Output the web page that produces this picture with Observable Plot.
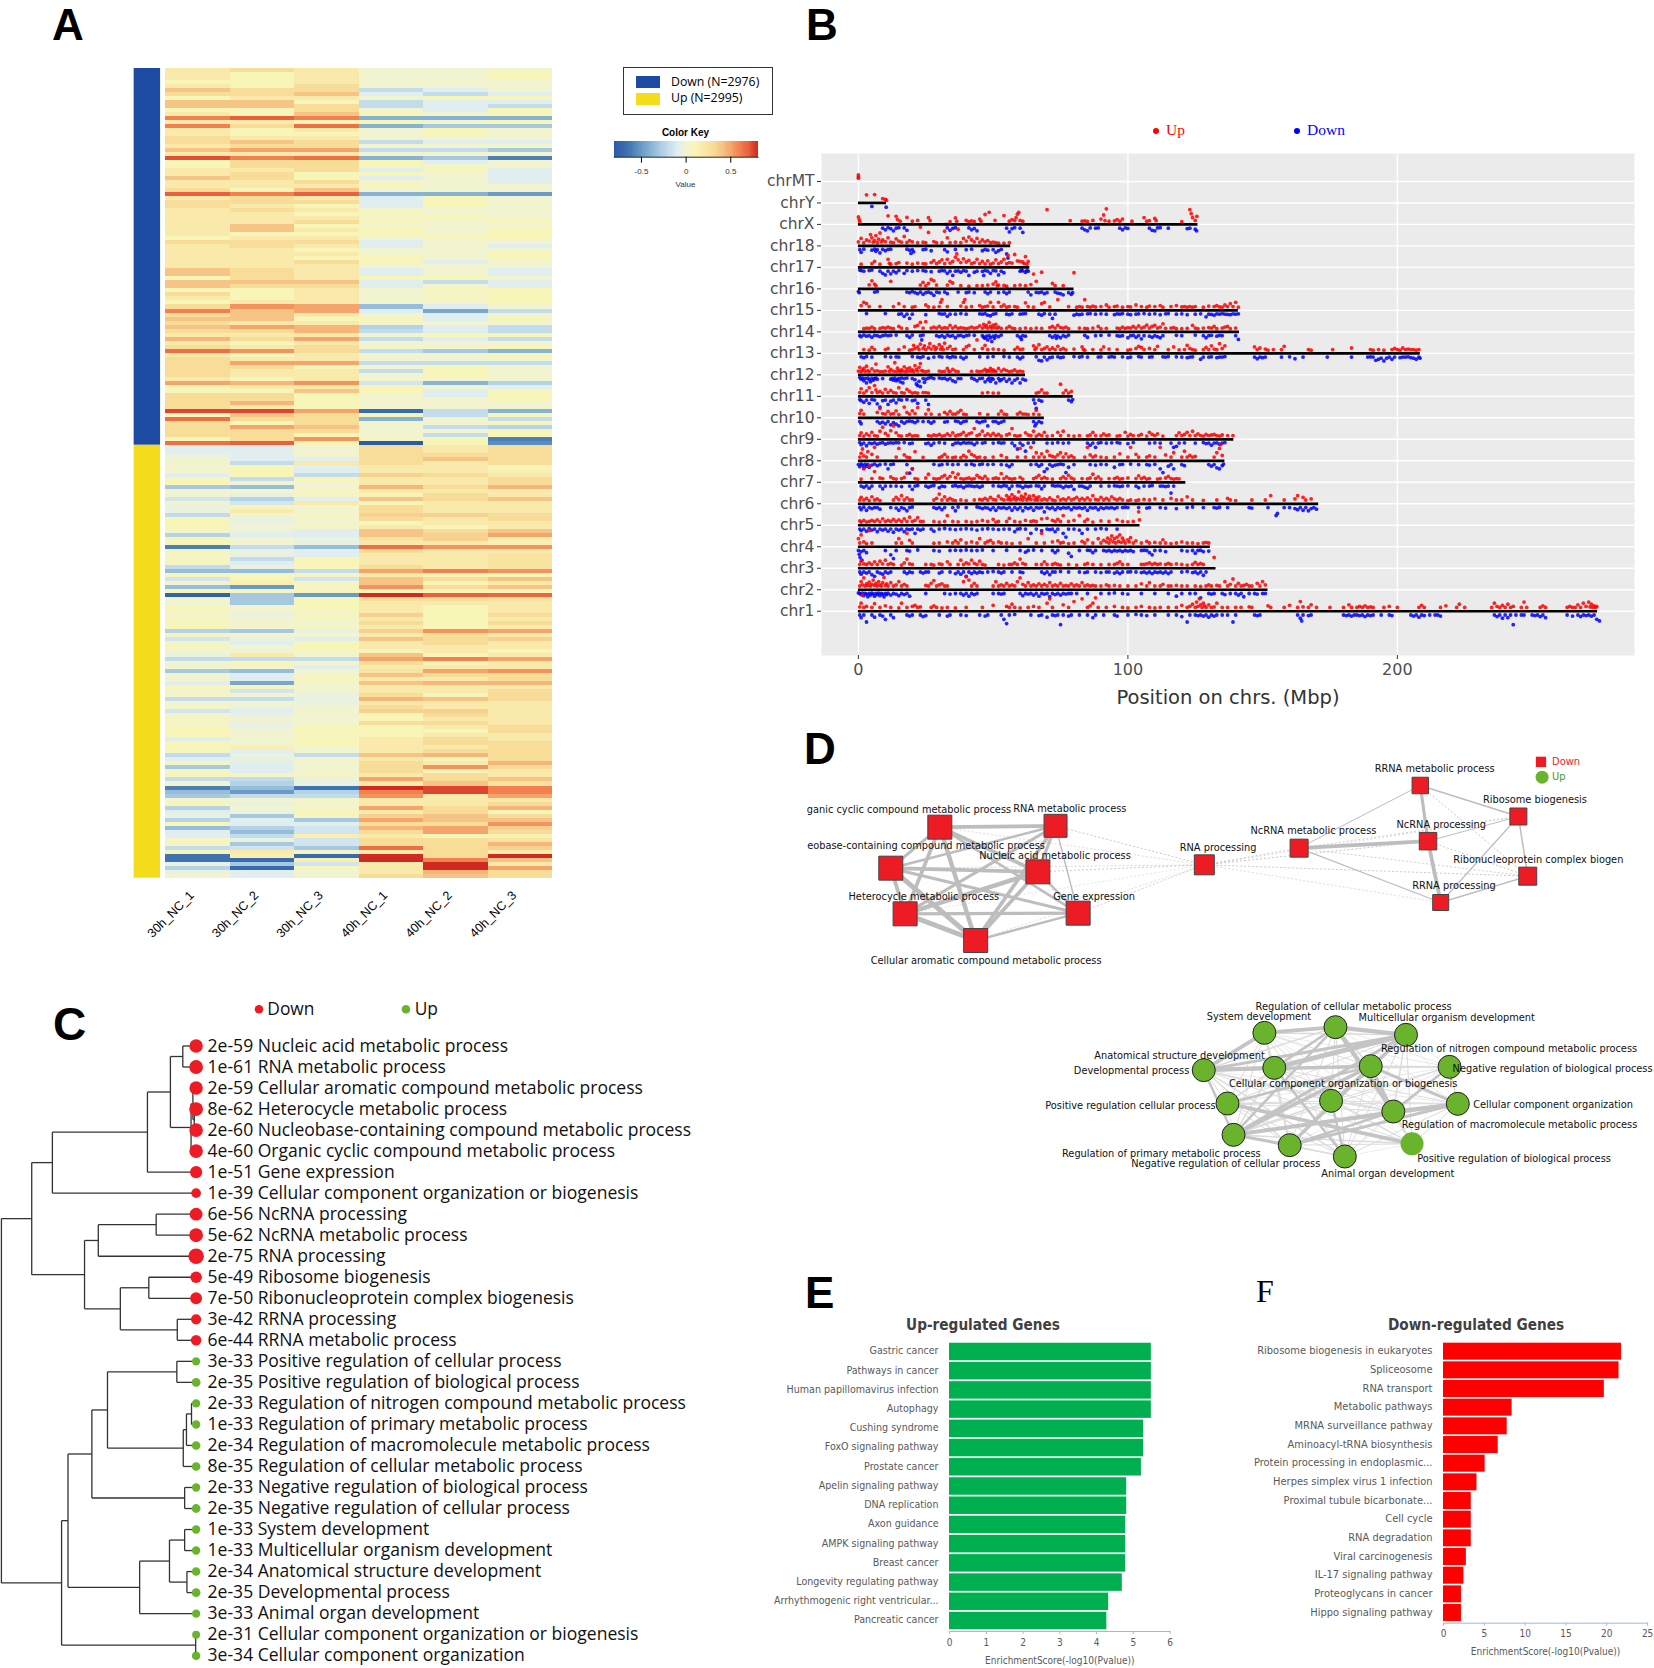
<!DOCTYPE html>
<html><head><meta charset="utf-8">
<script src="https://cdn.jsdelivr.net/npm/d3@7"></script>
<script src="https://cdn.jsdelivr.net/npm/@observablehq/plot@0.6"></script>
<style>
html,body{margin:0;background:#fff}
#page{position:relative;width:1654px;height:1668px;overflow:hidden;background:#fff}
#page svg{position:absolute;overflow:visible;background:transparent}
.t{position:absolute;white-space:nowrap;line-height:1}
</style></head><body><div id="page"></div>
<script>
// ---------- A: heat map (values in tenths)
const sampleNames=["30h_NC_1","30h_NC_2","30h_NC_3","40h_NC_1","40h_NC_2","40h_NC_3"];
const groupSizes=[94,108];
const keyStops=[-.8,-.65,-.5,-.4,-.3,-.2,-.1,0,.1,.2,.3,.4,.5,.6,.7,.8];
const keyColors=["#2a5da8","#3f72b0","#6a9ac6","#86b2d4","#a6c9e0","#c3dcec","#e0eef0","#f1f4cf","#f8f5b8","#f9e9aa","#f8dd98","#f6c586","#f5a56c","#f2814f","#e8603c","#cf2a20"];
const heatRows=[
[2,3,2,0,0,0],[2,1,2,0,0,1],[2,1,2,0,0,1],[1,1,2,0,0,0],[2,1,3,0,0,0],[4,3,3,-2,-1,0],[3,3,4,-1,-2,-1],[1,2,2,0,1,1],[4,4,1,-2,-1,-1],[4,4,3,-2,-1,-2],[1,1,3,0,-1,1],[2,1,4,1,0,1],[6,7,6,-4,-4,-4],[2,2,1,1,0,1],[6,3,6.5,-4,-3,-3],[2,1,2,0,1,0],[2,1,1,0,1,0],[3,2,2,0,0,0],[3,4,3,-2,-1,-1],[2,3,3,0,0,0],[4,5,5,-2,-2,-3],[2,2,2,0,0,0],[7.3,6,6.5,-4,-3,-6],[1,3,3,1,-1,0],
[1,3,3,1,0,0],[2,2,3,-1,1,-1],[2,3,1,1,0,-1],[4,3,1,-1,0,-1],[2,2,3,0,0,-1],[2,2,2,1,0,0],[3,1,4,0,0,0],[7,6,7,-4,-4,-5],[2,3,2,-1,1,0],[3,3,3,-1,1,0],[3,2,1,-1,1,0],[2,3,2,0,0,0],[2,2,1,1,0,0],[2,2,2,0,1,0],[2,2,3,1,0,1],[2,4,1,0,0,0],[2,4,2,1,0,1],[2,1,1,1,0,1],[1,2,2,0,1,1],[3,3,3,-1,0,0],[2,3,2,-1,0,-1],[2,2,1,0,0,0],[2,2,2,0,0,1],
[2,2,1,1,0,1],[2,2,3,1,-1,0],[2,2,2,0,0,0],[4,3,2,-1,0,-1],[4,3,2,-1,0,-1],[1,3,2,1,1,0],[4,4,4,-1,-2,-1],[4,3,3,-1,0,-1],[1,1,2,0,1,1],[3,1,2,0,0,1],[2,1,2,0,1,1],[1,2,2,0,0,1],[3,5.5,5,-3.5,-1,0],[6,4,5,-1,-4.5,-2],[3,4,2,0,-1,0],[4,4,1,1,-1,1],[3,2,2,0,0,0],[4,5,4.5,-2.5,-1,-2],[3,3,4.5,-2,-1,-2],[2,2,2,0,1,1],[4.5,3,5,-2,-1,-2],[2,1,2,0,0,0],[3,2,3,0,0,1],[6.5,5.5,3,-2,-3,-4],[2,1,2,0,0,1],[3,2,2,0,0,0],
[3,5,5,-2,-2,-2],[3,3,1,0,1,0],[3,2,2,-2,1,0],[3,2,2,0,1,0],[2,1,2,0,0,0],[5,4.5,5.5,-1.5,-4,-2.5],[1,2,2,1,0,-1],[1,1,4,1,-1,1],[3,3,1,0,-1,1],[3,3,1,0,0,1],[3,4.5,1,0,0,0],[3,2,1,0,0,0],[7.5,7.5,5,-7,-2,-4],[.8,4,3,1,-2,1],[6.5,3,3,-4,0,-2],[3,1,3,0,0,1],[3,5,4,0,-2,-2.5],[3,3,3,0,0,1],[3,3,1,0,-2,1],[1,3,5.5,.5,1,-6],[6.5,7,1,-8,1,-5.5],
[-1,-1,0,3,2,3],[-1,-1,0,3,2,3],[-.5,-1,0,3,3,3],[0,-1,-1,3,4,3],[0,-2,2,3,2,3],[0,1,-1,2,2,1],[0,1,-1,2,2,1.5],[-1,1,-2,3.5,3,2],[1,-2,1,2,2,3],[1,0,0,2,2,3],[-3,-3.5,0,4.5,3,4.5],[0,0,.5,2,2,2],[0,-.5,.5,1.2,3,2],[-1.5,-2.5,-1,4,3,4],[0,-1.5,2,1,2,2],[-.5,1,0,3,2,2],[-.5,2,0,3,2,2],[-2,0,.5,3.5,3.5,3],[1,-.5,0,3,2,3],[1,-.5,0,1,2,2],[1,0,.5,2,1,2],[0,-.5,-1,4,3,4],[-2.5,-1,-1,4,3.5,5],[1,0,-.5,2.5,3.5,1.5],[1,0,-.5,2,2,1.5],
[-6,-2,-3.5,6.5,5.5,5.5],[.5,-.5,-1,3,2,2],[.5,-.5,-1,2,2,2.5],[.5,-2,1,2,2,2.5],[.5,-1,1,2,2,2.5],[-2,-.5,1,3,2,2.5],[-3.5,-3.5,-2,5,6,5.5],[1,1,.5,2,1,1],[-1.5,1,-1.5,4,3,4],[0,1.5,.5,4,1,2],[-3.5,-5,.5,5.5,3,4],[1,.5,1,1,1,1],[-7.5,-3,-5,8,7,6.8],[0,-3,1,3,3,2.5],[0,-3,1,2,2,2],[.5,0,1,2,1,2],[1,0,.5,2,1,2],[0,-.5,.5,3.5,1,3],[1,0,.5,2,1,2],[.5,0,0,3,1,3],[1,0,.5,2,1,2],[-2.5,-3,-.5,3.5,5.5,5],[.5,0,0,2,3,2],[-1.5,-.5,-1,4,3,3.5],[.5,-1,1,2,3,2],[.5,0,1,2,2,2],[0,0,.5,1,2,1],[-.5,2,0,4,1,2],[-2,-2,-2,5,6,5],
[0,1,0,3,1,2],[0,0,-1,2,2,2],[-3,-3.5,0,2.5,5,5.5],[0,-1,0,4,3,3],[0,-1,1,2,2,3],[-1,-4.5,0,4,4.5,4.5],[1,1,0,2,2,2],[0,-1.5,0,2,2,3],[.5,0,-.5,3,1,3],[-2,-2,-.5,4.5,4,3],[0,0,-.5,2,2,2],[.5,-.5,0,3,2,2],[-1.5,-1,0,3.5,3.5,2],[0,-.5,0,1,3,2],[1,0,0,1,2,2],[0,-.5,0,3,3,2],[1,-.5,1,1,2,3],[1,0,1,1,1,3],[1,0,.5,1,2,2],[-1,0,1,2,3,2],[1,0,1,2,3,3],[1,1.5,0,2,2,3],[.5,-1,0,2,3,3],[-2,-.5,-2,4,4.5,3],[-1,-.5,0,2,1,3],[.5,-1,0,3,2,4.5],[-3,-1,0,3,5.5,3],[.5,-1,0,3,1,2],[1,.5,.5,2,3,2],[-2,-2,-.5,5,3,4],[0,-2.5,-.5,2,4,2.5],
[-6,-3.5,-6.5,8.5,7.5,6],[-3.5,-5,-2.5,6,7.5,6],[-3,-2,-2,5.5,2,5],[0,0,0,2,2,2],[1,-.5,.5,2,2,3],[-2.5,0,0,5,3,4.5],[-1,-.5,1,2,3,1],[-.5,-3,.5,3.5,4,3],[-2.5,-1,-3,5,4,4],[1,-1,-1,3,3,5.5],[-3.5,-2.5,-1.5,4.5,5,3.5],[-1,-3.5,-1.5,3,5,3],[-1,-2,1.5,2,1,1.5],[.5,-.5,-1.5,3,3,2.5],[.5,-3,-1.5,3,3,4.5],[-2,-1.5,-3,6.5,3,3.5],[1,2,.2,2,3,2],[-6.5,1.5,-7,8.8,3,8],[-6.5,-7,1.5,8.8,6,4],[-.5,-3,-1.5,2,8.5,2],[-2.5,-7,.5,2,8.5,5],[-.5,-1,0,2,4.5,3],[0,-1,0,3,4,3]];

// ---------- B: chromosome positions (pairs: Mbp, distance from the line in 1/100 row)
const chromNames=["chr1","chr2","chr3","chr4","chr5","chr6","chr7","chr8","chr9","chr10","chr11","chr12","chr13","chr14","chr15","chr16","chr17","chr18","chrX","chrY","chrMT"];
const chromLengths=[274.3,152,132.7,130.6,104.5,170.8,121.5,136,139.3,69,79.7,62,208.5,141.4,141,80,63.6,56.5,126,10.4,null];
const chrMTUp=[0,17,0,24,0,12],chrMTDown=[];
const chrYUp=[3,30,6,31,9,16,10,13,10.4,10],chrYDown=[5,13,10.3,16];
const chrXUp=[0,28,.3,18,.5,10,11,32,14,30,14.5,18,15.5,12,18,26,20,12,22,15,26,25,26.6,14,34,10,36,24,36.5,12,40,15,41,10,42,13,43,11,45,20,45.5,12,47,37,48.5,45,50.7,15,54,33,56,12,57,18,58,14,58.5,25,59,38,59.5,45,60,15,61,12,70,55,78.6,14,83,12,84,13,85,11,87,15,90,20,91,35,91.5,14,92,58,93,12,95,13,96,18,97,12,98,20,101.5,12,106,25,107,12,108,14,110,22,110.5,14,120,10,123,55,123.5,40,124,25,125,15,125.6,30];
const chrXDown=[9,14,10,20,11,12,12,16,13,24,14,14,15,12,17,13,18,22,33,13,34,22,35,15,36,12,41,13,42,20,43,15,44,24,55,14,56,28,57,16,58,12,60,14,61,30,83,14,84,20,85,24,86,13,88,14,89,13,97,14,98,20,99,13,100,15,108,14,109,22,110,24,111,13,112,12,115,14,122,16,123,14,125,18,125.5,24];
const chr18Up=[0,15,1,28,2,12,3,22,4,18,4.5,42,5,30,5.5,14,6,20,6.5,38,7,12,7.5,25,8,48,8.5,15,9,22,10,16,11,30,12,14,13,12,14,26,15,18,16,14,17,35,18,13,19,20,20,15,22,12,23,70,24,14,25,12,26,50,28,16,29,12,31,12,32,55,32.5,80,33,30,34,12,36,14,37,62,38,12,39,28,40,18,41,33,42,22,43,15,44,28,45,14,46,22,47,15,48,20,49,12,50,14,51,12,52,10,54,10,56,12];
const chr18Down=[.5,14,1,24,2,12,5,16,6,12,6.5,20,7,14,8,26,9,13,10,18,11,13,12,12,18,12,19,16,19.5,28,20,14,20.5,22,24,14,25,12,27,18,32,14,33,22,36,13,40,14,42,12,46,18,47,13,48,16,50,14,51,24,52,18,53,13,55,30,55.5,45];
const chr17Up=[1,12,5,14,6,22,8,12,11,30,11.5,15,12,12,14,14,15,18,18,16,20,12,22,16,24,14,25,13,27,18,28,25,29,14,30,20,31,28,32,14,33,30,34,16,35,22,36,38,36.5,50,37,28,38,18,39,32,40,20,41,26,42,14,43,18,44,30,45,14,46,22,47,13,48,24,49,12,50,16,51,28,52,14,53,20,54,30,55,14,55.5,45,56,18,57,16,58,48,59,24,60,22,61,20,61.5,14,62,40,62.5,12,63,22];
const chr17Down=[.5,10,1,12,2,14,4,12,5,10,8,14,9,22,10,28,11,14,12,24,13,14,14,20,15,12,17,22,18,12,20,14,22,12,24,12,25,14,27,16,30,14,31,12,32,13,33,22,34,14,35,30,36,14,37,13,38,18,39,12,40,14,41,30,43,18,44,14,46,15,46.5,30,47,12,48,14,49,22,50,12,51,13,52,28,53,14,54,20,60,14,60.5,10,61,13,62,18,62.5,12,63,14];
const chr16Up=[4,15,5,30,6,18,6.5,12,12,28,23,14,24,24,25,12,26,20,27,35,28,30,29,14,33,14,34,28,35,22,38,12,41,10,44,12,46,12,48,14,50,18,51,26,51.5,12,52,14,54,13,55,10,58,12,60,14,62,12,64,16,65,55,66,28,68,62,72,20,73,12,76,12,80,60];
const chr16Down=[0,10,.3,14,6,12,7,10,18,12,19,14,20,10,21,14,22,18,23,12,24,20,25,14,26,12,27,16,28,24,29,12,30,14,32,12,33,18,37,12,40,14,41,12,43,14,47,12,48,18,49,12,52,14,54,12,55,18,56,12,63,12,64,22,66,13,67,14,68,12,69,18,70,14,73,12,74,16,75,18,76,22,78,14,79,20,79.5,14];
const chr15Up=[1,18,2,30,3,25,4,14,8,14,13,14,15,25,17,14,20,12,21,14,25,20,26,13,28,12,30,14,30.5,30,31,40,33,14,38,16,39,30,39.5,40,40,12,42,14,45,18,46,12,47,14,48,16,49,30,50,13,52,30,53,14,54,20,55,12,56,14,58,14,59,12,62,28,63,14,65,12,68,25,69,30,71,13,74,40,78,14,81,12,82,14,83,12,84,40,85,14,86,12,87,16,88,13,90,14,92,20,93,12,95,14,96,16,98,12,100,14,101,13,103,20,105,14,107,12,108,16,110,14,112,18,113,12,116,14,118,18,120,13,121,14,122,12,123,14,124,12,125,14,128,12,130,16,132,14,133,18,134,13,135,12,136,20,137,14,138,25,139,14,140,30,141,12];
const chr15Down=[3,12,10,12,15,14,16,13,17,22,18,14,19,30,20,14,25,16,30,12,31,14,32,13,33,22,34,14,36,14,38,12,40,14,45,13,46,14,47,12,48,18,49,20,50,14,51,12,55,14,56,16,57,13,60,14,61,13,62,12,67,14,68,18,69,12,71,14,72,30,73,14,80,18,81,14,82,16,83,14,85,13,86,12,88,14,90,13,92,14,95,16,96,13,97,14,98,12,100,14,101,16,103,14,104,13,106,12,108,14,110,13,112,16,114,13,115,12,118,14,120,13,122,16,125,14,127,13,129,24,130,14,131,15,132,18,133,13,134,14,135,12,136,14,137,15,138,16,139,13,140,14,141,13];
const chr14Up=[2,12,3,14,4,13,5,18,6,12,8,13,9,16,10,14,11,18,12,14,13,12,15,20,16,14,18,12,21,20,22,24,23,35,24,14,25,38,27,14,28,18,29,14,30,20,31,13,32,16,33,14,34,24,35,14,36,20,37,13,38,16,39,14,40,12,41,14,42,18,43,14,44,16,45,22,46,14,46.5,28,47,18,47.5,24,48,14,48.5,35,49,20,49.5,14,50,25,50.5,16,51,28,51.5,14,52,18,53,13,55,14,56,20,57,14,58,12,60,12,62,14,64,12,66,14,68,13,71,16,72,20,73,14,74,24,75,16,76,14,77,18,78,12,82,14,84,13,85,12,87,14,89,20,90,12,92,13,96,14,97,12,98,18,99,13,100,16,101,14,102,20,103,14,104,22,105,14,106,18,107,25,108,14,109,20,110,24,111,14,112,18,113,30,114,13,116,14,117,16,118,12,120,12,122,13,124,24,125,14,126,12,128,14,130,16,131,14,132,20,133,12,135,14,136,18,137,20,138,12,140,14];
const chr14Down=[.5,14,1,18,2,12,3,16,4,14,5,20,6,13,7,14,8,18,9,14,10,12,11,14,12,13,14,12,18,14,19,20,20,12,23,14,23.5,30,24,12,29,14,30,18,31,14,32,20,33,12,34,16,35,14,36,22,37,14,38,13,39,18,40,14,41,12,43,13,46,14,46.5,20,47,24,47.5,16,48,30,48.5,14,49,22,49.5,36,50,16,50.5,24,51,14,52,18,53,12,59,14,60,20,60.5,28,61,14,62,16,71,14,72,20,73,14,73.5,24,74,16,75,22,76,14,77,18,78,12,84,13,85,20,88,14,90,13,93,12,96,14,97,16,98,14,100,22,101,14,102,13,103,20,104,14,105,26,106,14,108,16,109,20,110,14,111,18,112,22,113,14,118,13,120,14,125,12,128,14,129,22,130,14,131,13,133,16,134,13,135,14,140,14,141,28];
const chr13Up=[2,14,4,12,5,22,6,14,10,14,11,18,15,14,17,24,19,12,20,14,20.5,30,21,18,22,24,22.5,14,23,34,24,18,24.5,28,25,14,26,22,26.5,36,27,16,28,26,28.5,14,29,20,30,32,30.5,16,31,24,31.5,14,32,38,33,18,34,26,35,14,36,16,39,14,40,24,41,30,43,14,44,50,46,18,47,30,48,14,50,16,52,14,54,12,58,14,59,22,60,14,61,16,65,28,65.5,14,66,20,67,32,68,14,69,18,70,24,71,14,72,20,73,14,74,26,75,14,76,18,77,13,80,16,83,24,83.5,14,84,12,87,14,90,13,91,24,93,16,96,14,100,12,101,14,103,18,104,26,105,22,106,14,108,18,110,14,111,26,115,14,117,24,119,13,121,14,122,30,123,18,124,14,125,12,128,14,129,22,130,14,131,28,132,16,133,14,134,36,135,18,136,28,147,24,148,14,149,20,151,16,152,12,154,14,157,14,158,26,167,14,168,12,176,14,183,20,190,14,191,12,193,14,195,12,198,14,199,18,200,14,201,12,202,20,203,14,204,16,205,14,206,14,207,12,208,14];
const chr13Down=[1,13,2,16,3,12,5,14,10,12,12,14,14,13,15,14,20,12,22,14,23,16,24,12,26,18,28,14,30,12,31,14,33,13,34,16,35,12,36,14,38,14,39,20,40,14,45,13,48,14,50,12,54,12,56,14,59,14,60,20,61,14,66,13,67,26,68,28,69,14,70,24,71,16,72,14,74,13,75,16,76,14,80,12,82,14,83,12,85,14,89,14,90,13,93,14,94,12,95,14,98,13,100,16,101,14,104,12,105,14,108,14,109,13,113,13,114,14,115,12,118,13,120,14,122,16,123,14,124,13,127,22,128,14,130,14,131,13,133,16,134,14,135,14,136,12,147,14,148,20,149,14,150,16,151,14,157,14,160,13,162,20,165,14,174,14,183,14,189,14,190,13,191,14,192,26,193,22,194,18,195,28,196,18,197,14,198,22,199,14,201,16,202,14,203,14,204,13,205,16,206,18,207,22,208,14,208.4,18];
const chr12Up=[0,14,.5,28,1,12,1.5,18,2,24,2.5,13,3,32,3.5,16,4,12,5,22,6,14,6.5,40,7,15,8,12,9,12,10,14,11,30,11.5,13,12,20,13,14,13.5,45,14,12,14.5,25,15,16,15.5,12,16,18,16.5,14,17,30,17.5,12,18,22,18.5,14,19,26,19.5,14,20,18,20.5,12,21,34,21.5,20,22,14,22.5,28,23,42,23.5,16,24,14,25,12,26,14,30,14,31,12,32,13,33,24,33.5,14,34,12,35,20,36,14,37,12,42,13,44,14,45,12,46,14,47,20,47.5,13,48,16,48.5,14,49,24,49.5,13,50,18,50.5,14,51,13,52,24,53,14,54,20,55,16,56,12,57,14,58,18,59,12,60,14,61,12];
const chr12Down=[.5,10,1,16,1.5,12,2,22,2.5,14,3,30,3.5,12,4,18,4.5,26,5,13,5.5,20,6,14,6.5,12,7,16,9,14,12,16,12.5,14,13,20,13.5,12,14,22,14.5,18,15,14,15.5,26,16,12,16.5,30,17,14,18,12,20,14,21,18,21.5,34,22,40,22.5,24,23,44,24,14,24.5,28,25,16,26,12,27,10,28,14,30,12,31,14,32,13,33,18,34,14,35,22,36,26,37,14,38,14,42,12,43,16,44,22,45,14,46,13,47,26,48,18,48.5,12,49,24,49.5,14,50,16,51,30,52,14,52.5,22,53,18,54,14,55,24,56,16,57,30,58,20,59,14,60,30,61,16,62,20];
const chr11Up=[.5,14,1,28,2,12,3,20,4,32,5,14,6,40,6.5,24,7,14,8,18,9,12,10,26,11,14,12,22,13,14,14,12,15,32,16,14,17,12,18,26,19,18,20,12,21,14,22,12,24,14,25,14,26,12,46,12,48,14,50,12,52,12,66,12,67,15,68,24,69,12,70,12,75,45,76,12,77,22,78,12,79,18];
const chr11Down=[.5,12,1,16,2,22,3,14,4,26,5,12,6,14,7,28,8,40,9,16,10,14,11,30,12,18,13,14,14,24,15,12,16,14,18,12,20,16,21,14,22,26,25,14,26,30,65,13,65.5,26,66,45,67,14,68,18,78,14,79,20,79.5,12];
const chr10Up=[.5,16,1,28,2,14,7,20,8,34,9,16,10,14,11,24,12,14,13,16,14,26,15,12,17,40,18,20,19,14,20,26,21,16,22,38,25,14,26,30,27,14,30,12,32,20,33,14,34,24,35,14,36,14,37,20,38,28,39,14,40,12,45,16,48,12,52,14,53,25,54,14,55,12,59,14,60,20,61,14,62,14,63,12,65,14,66,28,67,12];
const chr10Down=[.5,14,1,22,7,14,8,20,9,16,10,22,11,14,12,26,13,18,14,24,15,30,16,14,17,20,18,14,19,12,20,14,21,18,22,12,24,14,26,14,27,20,28,14,32,16,33,14,36,12,37,14,38,20,39,14,40,12,44,14,45,18,46,14,47,12,48,30,50,14,51,14,52,20,53,16,54,12,65,14,65.5,30,66,22,67,14,68,18];
const chr9Up=[.5,14,1,24,2,12,3,20,4,14,5,26,6,14,7,12,8,30,9,45,10,22,11,14,12,32,13,50,14,24,15,14,16,12,18,14,19,18,20,12,21,14,22,13,26,14,27,12,28,16,29,14,30,18,31,12,32,14,33,20,34,14,35,24,36,13,37,16,38,18,39,26,40,14,41,20,42,24,43,40,44,14,45,18,46,30,47,14,48,20,49,14,50,22,51,14,52,18,53,12,55,16,56,20,57,40,58,14,59,12,60,14,62,24,63,16,64,14,65,30,66,12,67,18,68,14,69,26,70,12,72,14,74,26,75,14,76,30,78,14,80,12,82,14,85,13,86,16,87,26,88,14,90,13,91,20,92,14,93,16,96,12,97,14,99,26,100,12,101,18,102,14,104,14,105,18,107,12,108,26,109,18,110,14,111,20,113,12,118,14,119,24,120,14,121,18,122,26,123,14,124,30,125,14,126,20,127,14,128,12,129,18,130,14,131,16,132,18,133,14,134,12,135,16,137,14,139,14];
const chr9Down=[.5,12,1,20,2,14,3,24,4,14,5,16,6,13,7,18,8,14,9,12,10,18,11,14,12,13,13,14,14,12,15,13,17,12,19,16,20,14,25,16,26,14,27,22,28,14,30,12,32,14,35,20,36,14,37,13,38,16,39,12,40,14,41,13,42,14,43,20,44,13,46,14,47,12,50,14,52,12,53,14,54,13,57,14,58,24,59,36,60,14,61,22,62,44,63,14,65,12,70,14,72,14,74,12,76,14,78,13,85,14,86,22,87,14,88,30,89,14,90,12,92,14,94,13,96,12,97,14,100,16,102,12,108,14,110,13,112,14,116,14,117,30,118,26,119,14,121,13,125,14,128,12,129,16,130,14,131,22,132,14,133,13,134,18,135,14,136,12];
const chr8Up=[.5,14,1,28,1.5,44,2,18,3,14,3.5,34,5,24,6,50,7,14,14,14,15,46,17,22,18,14,19,12,21,34,24,13,30,12,31,16,32,24,33,14,35,12,36,14,38,12,39,20,40,14,41,36,42,24,43,18,44,12,45,14,47,12,50,14,53,20,55,12,59,14,60,46,62,14,64,50,65,14,66,30,67,14,68,26,69,14,70,36,71,20,72,16,73,14,74,22,75,30,76,14,77,26,78,14,79,18,80,12,84,14,85,50,86,22,87,14,88,18,90,14,92,12,95,14,97,26,100,14,101,50,103,24,104,14,107,14,108,18,110,14,112,50,114,22,116,14,117,30,120,14,121,36,122,14,123,20,124,14,125,16,132,14,133,30,134,46,134.5,60,135,20];
const chr8Down=[0,14,.5,22,1,12,1.5,16,2,26,2.5,13,3,20,3.5,14,4,24,5,16,6,12,7,18,8,14,10,12,11,30,12,14,13,12,18,14,19,46,20,30,28,13,30,16,31,14,33,12,35,14,37,13,40,14,42,12,43,16,45,14,46,12,48,14,50,13,53,14,55,16,56,22,57,14,64,14,66,13,67,20,68,14,69,40,70,30,71,14,72,20,73,16,74,14,75,12,76,14,77,44,78,24,80,14,86,14,88,16,90,13,92,14,95,24,97,14,98,13,101,12,104,14,107,14,108,16,110,13,112,30,113,44,115,20,116,14,117,30,120,14,121,18,130,14,131,20,132,14,133,26,134,30,135,18,135.5,12];
const chr7Up=[1,12,2,50,4,60,5,14,6,40,8,16,9,14,12,20,13,14,14,12,16,14,17,18,18,34,20,50,21,14,22,12,25,16,26,30,28,14,29,12,30,14,31,20,32,26,33,14,34,22,35,36,36,18,37,30,38,14,39,12,40,14,41,16,42,12,43,14,44,26,45,18,46,14,47,22,48,12,50,14,51,16,52,14,53,32,54,14,55,20,56,14,57,12,58,14,60,18,61,12,65,14,66,18,67,26,68,14,69,18,70,14,72,12,75,14,76,20,77,14,78,26,79,16,80,12,83,14,85,13,86,16,87,30,88,14,89,20,90,12,93,14,95,14,96,18,97,12,98,14,100,16,103,14,104,24,105,14,106,18,107,12,108,14,111,12,112,14,114,16,115,22,116,14,117,12,118,14,119,13];
const chr7Down=[1,14,2,18,3,13,4,22,5,14,8,14,9,24,10,14,12,14,14,14,16,16,19,14,20,26,21,14,22,12,25,14,26,18,27,14,28,12,30,20,31,14,32,16,35,14,36,12,37,16,38,14,39,20,40,14,41,13,42,14,43,16,44,14,45,18,46,14,50,13,52,14,53,16,54,12,55,14,56,24,57,14,59,13,60,14,61,20,62,14,63,16,64,14,66,13,67,14,68,24,69,14,72,12,73,14,74,13,75,14,76,20,77,14,78,16,79,14,80,26,82,14,83,14,84,18,85,22,86,14,90,14,93,14,95,13,96,14,97,16,98,14,100,13,103,14,104,20,106,14,108,14,109,12,112,14,113,14,114,16,115,14,116,40,117,14];
const chr6Up=[.5,14,1,24,2,14,3,20,4,12,5,26,6,14,7,18,8,12,13,14,14,24,15,16,16,30,17,14,18,22,19,14,20,14,28,14,29,20,30,36,31,14,32,26,33,14,34,20,35,14,36,12,38,14,40,12,43,14,45,16,46,14,47,20,48,14,49,24,50,16,51,14,52,28,53,18,54,14,55,30,55.5,16,56,24,56.5,14,57,34,57.5,18,58,26,58.5,14,59,20,59.5,44,60,16,60.5,28,61,14,61.5,24,62,36,62.5,14,63,20,63.5,28,64,16,65,30,65.5,14,66,22,66.5,14,67,26,68,14,69,18,70,14,71,22,72,14,73,12,74,26,75,14,76,18,77,14,78,22,79,14,80,18,81,24,82,14,83,20,84,14,85,22,86,14,87,30,88,16,89,14,90,24,91,14,92,20,93,14,94,26,95,18,96,14,97,20,98,14,100,12,101,14,103,12,104,14,106,16,108,14,110,18,113,14,116,20,118,14,120,14,122,26,124,14,128,13,133,14,137,20,138,14,140,12,146,14,151,14,153,30,158,14,162,18,163,30,165,24,166,14,168,18];
const chr6Down=[.5,14,1,22,2,13,3,24,4,14,5,18,6,14,7,14,8,20,12,14,14,16,15,24,16,14,17,18,18,26,19,14,20,12,28,14,29,18,30,14,31,22,32,14,35,14,36,26,37,12,40,14,44,12,45,14,46,18,47,14,48,16,49,22,50,14,51,24,52,14,53,16,54,14,55,18,56,14,57,24,58,14,59,20,60,14,61,26,62,14,63,18,64,14,65,24,66,14,67,16,68,14,69,30,70,14,71,18,72,14,73,22,74,14,75,18,76,14,77,16,78,14,79,22,80,14,81,16,82,14,83,18,84,14,85,24,86,14,87,16,88,14,89,22,90,14,91,18,92,14,93,16,94,14,95,18,96,14,98,14,99,13,100,14,104,14,107,16,108,14,112,14,114,16,118,18,122,14,124,12,128,14,132,14,133,16,134,13,137,14,145,14,146,16,152,14,155,44,155.5,36,158,14,160,14,162,18,163,22,164,14,165,24,166,14,167,26,168,18,169,14,170,20];
const chr5Up=[.5,16,1,12,2,18,3,12,4,14,5,18,6,14,7,20,8,13,9,24,10,14,11,18,12,14,13,22,14,14,15,20,16,14,17,24,18,14,19,30,20,14,21,18,22,28,23,14,24,14,28,14,30,12,32,14,33,36,35,14,37,13,40,14,42,12,44,14,46,18,48,14,50,22,51,12,52,14,55,14,56,26,58,14,60,12,62,18,64,14,65,16,66,14,68,24,70,26,72,18,73,14,74,22,75,14,76,36,78,14,80,18,82,36,84,14,85,22,87,12,90,16,93,14,96,20,98,14,100,13,102,14,104,50,104.3,20];
const chr5Down=[.5,14,1,20,2,14,3,22,4,13,5,18,6,14,7,24,8,14,9,18,10,14,11,22,12,14,13,26,14,14,15,18,16,14,17,24,18,14,19,16,20,14,21,30,22,14,23,18,24,14,27,14,28,22,30,14,32,12,34,14,36,16,38,14,40,13,42,14,44,18,46,14,48,13,50,14,52,16,54,14,56,14,58,24,59,14,60,13,62,14,64,30,66,14,68,20,70,14,71,16,72,14,73,24,74,14,76,30,77,44,78,14,80,14,82,18,83,30,85,14,88,14,90,12,92,14,96,14];
const chr4Up=[0,30,.5,14,1,44,2,18,3,12,4,60,5,14,14,14,15,30,16,14,18,50,19,24,20,14,28,13,30,14,33,18,35,14,36,22,37,14,38,26,40,14,42,18,44,14,45,30,47,14,48,20,49,24,50,14,52,18,53,14,55,14,57,12,60,14,63,30,66,14,68,50,69,14,72,18,74,22,75,14,76,16,78,12,80,14,83,20,84,14,85,26,87,14,89,30,90,14,91,24,92,18,92.5,32,93,14,93.5,26,94,40,94.5,18,95,30,95.5,14,96,36,96.5,20,97,44,97.5,16,98,32,98.5,22,99,14,100,26,100.5,18,101,34,102,14,103,22,105,14,107,20,108,14,110,16,112,14,113,26,114,14,116,12,118,14,120,18,122,14,124,14,126,12,128,14,129,16,130,14];
const chr4Down=[0,14,.3,28,.6,40,1,18,1.3,50,2,14,3,22,10,14,12,30,13,44,14,14,18,14,19,16,22,12,28,14,30,16,34,14,36,13,38,14,40,12,42,14,44,14,46,12,50,14,55,13,60,14,62,20,63,14,65,12,68,14,72,14,73,22,74,14,78,24,79,36,82,14,85,13,86,14,87,22,88,14,91,14,92,16,93,14,94,18,95,14,96,16,97,14,98,18,99,14,100,16,101,14,102,18,105,14,106,13,107,14,108,22,109,30,110,14,112,14,114,18,120,14,122,16,124,14,125,24,126,14,127,13,128,18,130,16];
const chr3Up=[.5,14,1,26,2,16,3,14,4,20,5,14,6,24,7,14,8,26,9,16,10,30,11,14,12,18,13,14,16,12,17,20,18,34,19,16,20,14,25,14,27,14,28,12,30,16,31,14,33,24,34,14,37,14,38,30,39,14,40,20,41,16,42,30,43,18,44,14,45,26,46,14,47,12,52,14,54,12,56,14,57,14,58,20,59,14,60,34,61,18,62,14,66,14,68,14,69,24,70,14,72,14,73,18,74,14,75,12,78,14,81,12,84,14,85,18,87,14,90,13,93,14,95,14,96,18,97,24,98,14,100,14,105,14,106,14,107,16,108,20,109,14,110,18,111,14,112,16,114,14,115,18,116,14,118,16,120,14,122,12,124,14,125,22,126,14,127,18,128,14,132,40];
const chr3Down=[.5,14,1,22,2,14,3,18,4,14,5,24,6,30,7,14,8,18,9,22,10,14,11,18,12,14,17,14,18,20,19,14,20,16,23,14,24,18,25,14,26,14,30,18,31,14,34,14,36,20,37,14,38,22,39,14,40,30,41,14,42,20,43,14,44,18,45,14,46,16,48,14,50,12,52,14,53,18,54,14,57,14,60,14,61,16,68,14,69,20,70,14,71,24,72,14,73,14,75,12,78,14,82,14,84,16,85,14,88,14,90,16,92,14,93,14,95,18,96,14,97,20,98,14,100,14,101,13,103,14,105,16,106,14,107,18,108,14,109,20,110,14,111,16,112,14,113,18,114,14,115,20,116,14,120,14,122,12,124,16,125,14,126,20,127,14,128,26,129,14];
const chr2Up=[.5,14,1,30,1.5,18,2,44,2.5,14,3,22,3.5,16,4,28,4.5,14,5,20,5.5,36,6,16,6.5,24,7,14,7.5,30,8,18,8.5,14,9,26,9.5,46,10,16,10.5,22,11,14,12,26,13,14,14,18,15,30,16,14,17,20,18,14,25,16,26,14,27,24,28,34,29,14,30,18,31,22,32,14,33,14,39,30,40,48,41,36,42,14,43,24,44,14,50,14,51,30,52,14,53,18,54,14,55,24,56,14,57,18,58,14,59,30,60,44,61,20,62,14,63,26,64,14,65,18,66,14,67,22,68,14,69,20,70,14,71,26,72,14,73,18,74,14,75,24,76,14,77,16,78,14,79,22,80,14,81,18,82,14,83,26,84,14,85,18,86,14,87,16,88,14,90,14,92,18,93,14,95,16,97,14,100,14,103,14,105,22,107,14,108,26,110,14,112,14,113,20,115,14,116,14,118,16,120,14,122,14,125,14,127,12,129,14,130,18,131,14,133,16,134,14,136,30,137,14,138,20,139,40,140,14,141,24,142,14,143,16,144,20,145,14,146,14,148,24,149,14,150,30,151,18];
const chr2Down=[0,12,.5,14,1,18,1.5,13,2,22,2.5,14,3,16,3.5,26,4,14,4.5,20,5,13,5.5,16,6,24,6.5,14,7,18,7.5,13,8,22,8.5,14,9,16,9.5,26,10,14,10.5,18,11,13,12,20,13,14,14,16,15,22,16,14,17,18,18,14,19,24,25,14,32,14,34,16,36,14,38,14,39,20,40,14,41,24,42,14,43,18,44,14,50,14,52,14,53,16,54,14,60,14,61,22,62,14,63,16,64,14,65,20,66,14,67,24,68,14,69,16,70,14,71,26,72,14,73,18,74,14,75,20,76,14,77,16,78,14,79,14,81,14,85,14,90,14,93,14,95,12,98,14,100,16,105,14,110,14,115,14,118,24,120,14,123,14,125,14,127,30,130,14,131,16,132,14,135,14,136,18,138,14,140,14,141,20,142,14,143,26,145,14,147,14,148,16,150,14,151,14];
const chr1Up=[.5,16,1,30,1.5,60,2,14,3,18,5,14,6,28,8,14,10,20,12,14,15,12,16,30,18,14,20,18,21,22,22,14,23,16,27,14,28,20,29,14,31,12,33,14,36,12,40,14,46,14,50,22,55,18,56,14,57,26,58,14,60,12,63,14,65,18,67,14,70,30,71,46,72,14,76,24,78,14,80,36,83,46,85,14,86,20,87,30,88,50,89,14,92,14,95,18,98,14,100,12,103,14,105,18,108,14,110,12,112,14,115,14,118,14,120,22,122,14,123,18,124,26,125,14,125.5,34,126,18,126.5,46,127,24,127.5,14,128,30,128.5,20,129,14,130,24,131,14,132,16,133,30,135,14,137,14,140,14,142,14,145,16,146,14,152,20,153,14,158,14,160,22,163,14,164,36,165,16,167,14,168,24,170,14,175,14,180,14,182,24,183,14,185,14,186,18,187,14,188,20,189,14,190,16,191,14,195,14,197,18,200,14,208,14,209,22,210,14,216,14,218,20,222,14,223,26,225,14,235,14,236,30,237,18,238,14,239,22,240,14,241,26,242,14,243,18,246,14,247,34,248,14,253,14,254,20,255,14,263,14,264,18,265,14,266,14,267,24,268,14,269,30,270,18,271,34,271.5,16,272,26,272.5,14,273,20,273.5,14,274,18];
const chr1Down=[.5,14,1,24,2,14,3,40,5,14,6,22,8,14,9,18,10,30,12,14,13,24,18,14,19,18,20,14,23,14,24,20,25,16,30,14,33,18,34,14,38,14,40,16,45,14,47,18,48,14,53,14,54,30,55,46,56,14,58,12,64,14,67,16,68,14,70,22,72,14,73,16,74,14,75,50,76,14,78,18,79,14,82,14,85,14,87,24,88,14,91,14,95,14,96,18,100,14,103,12,105,14,107,16,110,14,115,14,118,14,120,20,122,40,123,14,125,14,126,16,127,14,128,18,129,14,130,22,131,14,132,18,133,14,135,14,137,14,139,40,140,14,147,14,148,16,149,14,163,14,164,26,164.5,36,165,14,167,16,168,14,180,14,181,16,182,14,183,18,184,14,185,14,186,16,187,14,188,20,189,14,190,16,191,14,194,14,197,14,198,16,205,14,206,18,207,14,208,22,209,14,210,16,212,14,214,14,215,14,216,18,236,14,237,20,238,14,239,26,240,14,241,24,242,14,243,50,244,14,246,14,247,14,250,14,251,16,252,14,253,20,254,14,255,24,263,14,265,18,267,14,268,20,269,14,270,16,271,14,272,18,273,14,274,30,275,36];

// ---------- C: clustered terms
const termNames=["Nucleic acid metabolic process","RNA metabolic process","Cellular aromatic compound metabolic process","Heterocycle metabolic process","Nucleobase-containing compound metabolic process","Organic cyclic compound metabolic process","Gene expression","Cellular component organization or biogenesis","NcRNA processing","NcRNA metabolic process","RNA processing","Ribosome biogenesis","Ribonucleoprotein complex biogenesis","RRNA processing","RRNA metabolic process","Positive regulation of cellular process","Positive regulation of biological process","Regulation of nitrogen compound metabolic process","Regulation of primary metabolic process","Regulation of macromolecule metabolic process","Regulation of cellular metabolic process","Negative regulation of biological process","Negative regulation of cellular process","System development","Multicellular organism development","Anatomical structure development","Developmental process","Animal organ development","Cellular component organization or biogenesis","Cellular component organization"];
const termP=["2e-59","1e-61","2e-59","8e-62","2e-60","4e-60","1e-51","1e-39","6e-56","5e-62","2e-75","5e-49","7e-50","3e-42","6e-44","3e-33","2e-35","2e-33","1e-33","2e-34","8e-35","2e-33","2e-35","1e-33","1e-33","2e-34","2e-35","3e-33","2e-31","3e-34"];
const termGroup=[..."DDDDDDDDDDDDDDDUUUUUUUUUUUUUUU"];
const mergeTree=[2,
 [68,
  [113,[320,[370,[397,0,1],[415,[419,2,[422,3,4]],5]],6],7],
  [183,[213,[339,8,9],10],[261,[323,11,12],[385,13,14]]]],
 [133,
  [147,
   [199,[233,[384,15,16],[398,[405,[416,17,18],19],20]],[401,21,22]],
   [303,[368,[401,23,24],[406,25,26]],27]],
  [425,28,29]]];

// ---------- D: enrichment networks (layout)
const downLabels=["ganic cyclic compound metabolic process","RNA metabolic process","eobase-containing compound metabolic process","Nucleic acid metabolic process","Heterocycle metabolic process","Gene expression","Cellular aromatic compound metabolic process","RNA processing","NcRNA metabolic process","RRNA metabolic process","NcRNA processing","Ribosome biogenesis","Ribonucleoprotein complex biogen","RRNA processing"];
const downLayoutX=[271,481,182,449,208,522,336,751,923,1143,1157,1321,1338,1180];
const downLayoutY=[320,316,443,454,580,578,660,433,383,195,362,288,467,546];
const downNodeWeight=[24,23,24,24,24,24,24,20,18,16.5,17.5,17,18,16];
const downLabelX=[215,507,246,480,242,551,355,776,949,1169,1181,1351,1357,1204];
const downLabelY=[268,264,375,405,527,527,720,381,331,144,311,237,416,494];
const downEdges=[[0,1,3],[0,2,2.5],[0,3,3],[0,4,3],[0,5,2],[0,6,3.5],[1,2,2],[1,3,2.5],[1,4,2.5],[1,5,1.5],[1,6,3],[2,3,3],[2,4,3],[2,5,2.5],[2,6,4],[3,4,3.5],[3,5,2],[3,6,3],[4,5,2.5],[4,6,4],[5,6,2],[1,7,.8],[3,7,.8],[5,7,.7],[0,7,.5],[2,7,.6],[4,7,.4],[6,7,.5],[7,8,.8],[7,10,.8],[7,12,.8],[7,13,.5],[7,11,.5],[8,9,1],[8,10,3],[8,11,.7],[8,12,.7],[8,13,1.2],[9,10,2.5],[9,11,1.5],[9,12,.8],[10,11,1],[10,12,.8],[10,13,3],[11,12,1.5],[11,13,1.2],[12,13,1.5]];
const upLabels=["System development","Regulation of cellular metabolic process","Multicellular organism development","Anatomical structure development","Developmental process","Regulation of nitrogen compound metabolic process","Negative regulation of biological process","Positive regulation cellular process","Cellular component organization or biogenesis","Regulation of macromolecule metabolic process","Cellular component organization","Regulation of primary metabolic process","Negative regulation of cellular process","Animal organ development","Positive regulation of biological process"];
const upLayoutX=[860,989,1117,878,750,1053,1196,793,981,1094,1211,804,906,1006,1128];
const upLayoutY=[937,920,943,1042,1049,1037,1039,1149,1141,1173,1150,1243,1274,1308,1270];
const upLabelX=[850,1022,1191,706,619,1304,1383,617,1003,1323,1384,673,790,1084,1313];
const upLabelY=[887,857,891,1004,1049,985,1043,1155,1089,1213,1151,1298,1330,1358,1313];
const upEdgeWeights=[[3,1.5,1.5,3,1,.6,1,1,.6,.5,1,1.5,1,.5],[3.5,2,1.5,1.5,.6,1,1,3.5,.6,2,1,1,1],[4,2.5,2,.6,1,1,1.5,.5,2.5,2,1,1],[3.5,1.5,.8,1.5,1,1,1,1.5,1.5,2,1],[2.5,1.5,1,1.5,1,.6,2,1.5,1.5,1],[1.5,2,1,2,2.5,3,2.5,1,1],[.6,1,2,1.5,1,.6,.5,.5],[1,1,1,1,1,1,3],[1.5,1,1.5,1.5,2,1],[3,2.5,2,1,1.5],[3,2.5,1,1],[2.5,1.5,1.5],[1,1],[.5]];

// ---------- E, F: KEGG enrichment
const upPathways=["Gastric cancer","Pathways in cancer","Human papillomavirus infection","Autophagy","Cushing syndrome","FoxO signaling pathway","Prostate cancer","Apelin signaling pathway","DNA replication","Axon guidance","AMPK signaling pathway","Breast cancer","Longevity regulating pathway","Arrhythmogenic right ventricular...","Pancreatic cancer"];
const upScores=[5.49,5.49,5.49,5.49,5.28,5.28,5.22,4.82,4.82,4.79,4.79,4.79,4.7,4.33,4.28];
const downPathways=["Ribosome biogenesis in eukaryotes","Spliceosome","RNA transport","Metabolic pathways","MRNA surveillance pathway","Aminoacyl-tRNA biosynthesis","Protein processing in endoplasmic...","Herpes simplex virus 1 infection","Proximal tubule bicarbonate...","Cell cycle","RNA degradation","Viral carcinogenesis","IL-17 signaling pathway","Proteoglycans in cancer","Hippo signaling pathway"];
const downScores=[21.8,21.5,19.7,8.4,7.8,6.7,5.1,4.1,3.4,3.4,3.4,2.8,2.5,2.2,2.2];

// ---------- helpers
const page=document.getElementById("page");
const narrow="'Liberation Sans Narrow','DejaVu Sans Condensed','Open Sans',sans-serif";
function put(svg,x,y){svg.style.left=x+"px";svg.style.top=y+"px";page.appendChild(svg);}
function txt(s,x,y,o={}){const d=document.createElement("div");d.className="t";d.textContent=s;
  d.style.left=x+"px";d.style.top=y+"px";d.style.fontFamily=o.font||"'Liberation Sans',sans-serif";
  d.style.fontSize=(o.size||12)+"px";d.style.color=o.color||"#000";d.style.fontWeight=o.weight||400;
  if(o.center)d.style.transform="translateX(-50%)";page.appendChild(d);}
const letter=(s,x,base,size=46,font)=>txt(s,x,base-.8465*size,{size,weight:font?400:700,font});

// ---------- panel letters
letter("A",52,40,44);letter("B",806,40,44);letter("C",53,1040);letter("D",804,764,44);letter("E",805,1308,44);
letter("F",1256,1302,32,"'Liberation Serif',serif");

// ---------- A heat map
const heatCells=heatRows.flatMap((r,i)=>r.map((v,c)=>({row:i,col:c,v:v/10})));
const rowTotal=groupSizes[0]+groupSizes[1];
const colorScale={type:"linear",domain:keyStops,range:keyColors,clamp:true,interpolate:"rgb"};
put(Plot.plot({width:600,height:960,marginLeft:133,marginRight:48,marginTop:68,marginBottom:82.3,
  style:{fontFamily:"'Liberation Sans',sans-serif"},
  x:{domain:[-.5,6],axis:null},y:{domain:[rowTotal,0],axis:null},color:colorScale,
  marks:[
    Plot.rect(heatCells,{x1:"col",x2:d=>d.col+1,y1:"row",y2:d=>d.row+1,fill:"v",inset:0,shapeRendering:"crispEdges"}),
    Plot.rect([{a:0,b:groupSizes[0]}],{x1:-.49,x2:-.08,y1:"a",y2:"b",fill:"#1d4aa3"}),
    Plot.rect([{a:groupSizes[0],b:rowTotal}],{x1:-.49,x2:-.08,y1:"a",y2:"b",fill:"#f3dc1c"}),
    Plot.axisX({ticks:[.5,1.5,2.5,3.5,4.5,5.5],tickFormat:d=>sampleNames[d-.5],tickSize:0,tickRotate:-45,tickPadding:15,fontSize:12.5,label:null,fontStyle:"normal",dx:-6})
  ]}),0,0);
// legend box
{const b=document.createElement("div");b.style.cssText="position:absolute;left:623px;top:67px;width:148px;height:46px;border:1.5px solid #333";page.appendChild(b);
 [["#1d4aa3",76],["#f3dc1c",92.7]].forEach(([c,y])=>{const s=document.createElement("div");s.style.cssText=`position:absolute;left:636px;top:${y}px;width:24px;height:12.3px;background:${c}`;page.appendChild(s);});
 txt("Down (N=2976)",671,75.5,{size:12.3,font:"'Open Sans',sans-serif"});txt("Up (N=2995)",671,91.5,{size:12.3,font:"'Open Sans',sans-serif"});
 txt("Color Key",685.5,128,{size:10,weight:700,center:true});}
// colour key
const keyRamp=d3.range(-.804,.806,.01);
put(Plot.plot({width:180,height:70,marginLeft:13.8,marginRight:22.4,marginTop:21.3,marginBottom:33.3,
  style:{fontFamily:"'Liberation Sans',sans-serif"},
  x:{domain:[-.804,.806],axis:null},y:{domain:[0,1],axis:null},color:colorScale,
  marks:[
    Plot.rect(keyRamp,{x1:d=>d,x2:d=>d+.012,y1:0,y2:1,fill:d=>d,shapeRendering:"crispEdges"}),
    Plot.frame({anchor:"bottom",stroke:"#222"}),
    Plot.axisX({ticks:[-.5,0,.5],tickFormat:d=>d===0?"0":d,tickSize:6,tickPadding:5,fontSize:8,label:null,fill:"#333"})
  ]}),600,120);
txt("Value",685.5,181,{size:8,center:true,color:"#333"});

// ---------- B chromosome map
const chromPairs=[[chr1Up,chr1Down],[chr2Up,chr2Down],[chr3Up,chr3Down],[chr4Up,chr4Down],[chr5Up,chr5Down],[chr6Up,chr6Down],[chr7Up,chr7Down],[chr8Up,chr8Down],[chr9Up,chr9Down],[chr10Up,chr10Down],[chr11Up,chr11Down],[chr12Up,chr12Down],[chr13Up,chr13Down],[chr14Up,chr14Down],[chr15Up,chr15Down],[chr16Up,chr16Down],[chr17Up,chr17Down],[chr18Up,chr18Down],[chrXUp,chrXDown],[chrYUp,chrYDown],[chrMTUp,chrMTDown]];
const unpack=(a,idx,sign)=>{const o=[];for(let i=0;i<a.length;i+=2)o.push({pos:a[i],y:idx+sign*1.25*a[i+1]/100});return o;};
const upPts=chromPairs.flatMap(([u],i)=>unpack(u,i,1));
const downPts=chromPairs.flatMap(([,d],i)=>unpack(d,i,-1));
const chromLines=chromNames.map((n,i)=>({i,len:chromLengths[i]})).filter(d=>d.len!=null);
put(Plot.plot({width:894,height:570,marginLeft:61,marginRight:20,marginTop:13,marginBottom:55,
  style:{fontFamily:"'DejaVu Sans',sans-serif"},
  x:{domain:[-13.7,288],axis:null},y:{domain:[-2.06,21.3],axis:null},
  marks:[
    Plot.frame({fill:"#ebebeb",stroke:"none"}),
    Plot.gridY(d3.range(21),{stroke:"#fff",strokeOpacity:1,strokeWidth:1.4}),
    Plot.gridX([0,100,200],{stroke:"#fff",strokeOpacity:1,strokeWidth:1.4}),
    Plot.dot(downPts,{x:"pos",y:"y",r:1.9,fill:"#0000ff",fillOpacity:.85}),
    Plot.dot(upPts,{x:"pos",y:"y",r:1.9,fill:"#ff0000",fillOpacity:.85}),
    Plot.ruleY(chromLines,{y:"i",x1:0,x2:"len",stroke:"#000",strokeWidth:2.7}),
    Plot.axisY(d3.range(21),{tickFormat:d=>chromNames[d],tickSize:4,tickPadding:3,fontSize:15.5,fill:"#4d4d4d",stroke:"#333",label:null}),
    Plot.axisX([0,100,200],{tickSize:4,tickPadding:4,fontSize:16,fill:"#4d4d4d",stroke:"#333",label:null}),
    Plot.text(["Position on chrs. (Mbp)"],{frameAnchor:"bottom",dy:48,fontSize:19.5,fill:"#333"})
  ]}),760,140);
{const dot=(x,y,c)=>{const s=document.createElement("div");s.style.cssText=`position:absolute;left:${x-3}px;top:${y-3}px;width:6px;height:6px;border-radius:50%;background:${c}`;page.appendChild(s);};
 dot(1156,130.5,"#f00");dot(1297,130.5,"#00f");
 txt("Up",1166,121.5,{size:15.5,color:"#f00",font:"'Liberation Serif',serif"});
 txt("Down",1307,121.5,{size:15.5,color:"#00f",font:"'Liberation Serif',serif"});}

// ---------- C dendrogram
const segs=[];
function walk(n){ if(typeof n==="number")return {x:426,y:n};
  const [h,a,b]=n,l=walk(a),r=walk(b),y=(l.y+r.y)/2;
  segs.push({x1:h,x2:h,y1:l.y,y2:r.y},{x1:h,x2:l.x,y1:l.y,y2:l.y},{x1:h,x2:r.x,y1:r.y,y2:r.y});
  return {x:h,y};}
walk(mergeTree);
const terms=termNames.map((n,i)=>({row:i,label:termP[i]+" "+n,logp:-Math.log10(+termP[i]),fill:termGroup[i]}));
put(Plot.plot({width:720,height:678,margin:0,
  style:{fontFamily:"'Open Sans',sans-serif"},
  x:{domain:[0,1568],axis:null},y:{domain:[29.61,-2.64],axis:null},
  r:{type:"linear",domain:[31,50,61,75],range:[4,6,6.9,7.8]},
  marks:[
    Plot.link(segs,{x1:"x1",x2:"x2",y1:"y1",y2:"y2",stroke:"#333",strokeWidth:1.3}),
    Plot.dot(terms.filter(d=>d.fill==="D"),{x:426,y:"row",r:"logp",fill:"#ed1c24"}),
    Plot.dot(terms.filter(d=>d.fill==="U"),{x:426,y:"row",r:"logp",fill:"#6ab42d"}),
    Plot.text(terms,{x:451,y:"row",text:"label",textAnchor:"start",fontSize:17.55,fill:"#111"}),
    Plot.dot([563],{x:d=>d,y:-1.75,r:4.3,fill:"#ed1c24"}),
    Plot.dot([883],{x:d=>d,y:-1.75,r:4.3,fill:"#6ab42d"}),
    Plot.text(["Down"],{x:581,y:-1.75,textAnchor:"start",fontSize:17.4,fill:"#111"}),
    Plot.text(["Up"],{x:902,y:-1.75,textAnchor:"start",fontSize:17.4,fill:"#111"})
  ]}),0,990);

// ---------- D networks
const nodeOf=(xs,ys)=>i=>({x:xs[i],y:ys[i]});
const dn=nodeOf(downLayoutX,downLayoutY),un=nodeOf(upLayoutX,upLayoutY);
const dEdges=downEdges.map(([a,b,w])=>({a:dn(a),b:dn(b),w}));
const uEdges=upEdgeWeights.flatMap((row,i)=>row.map((w,k)=>({a:un(i),b:un(i+k+1),w})));
const downNodes=downLabels.map((l,i)=>({...dn(i),r:downNodeWeight[i]/1.772,l,lx:downLabelX[i],ly:downLabelY[i]}));
const upNodes=upLabels.map((l,i)=>({...un(i),i,l,lx:upLabelX[i],ly:upLabelY[i]}));
const edgeMark=(data,opt)=>Plot.link(data,{x1:d=>d.a.x,y1:d=>d.a.y,x2:d=>d.b.x,y2:d=>d.b.y,strokeWidth:d=>d.w>=2?d.w*1.25:d.w,...opt});
put(Plot.plot({width:864,height:500,margin:0,
  style:{fontFamily:narrow},
  x:{domain:[0,1568],axis:null},y:{domain:[1500,0],axis:null},r:{type:"identity"},
  marks:[
    edgeMark(dEdges.filter(d=>d.w<1),{stroke:"#bbb",strokeDasharray:"2,2"}),
    edgeMark(dEdges.filter(d=>d.w>=1),{stroke:"#bdbdbd"}),
    edgeMark(uEdges.filter(d=>d.w<2),{stroke:"#dcdcdc"}),
    edgeMark(uEdges.filter(d=>d.w>=2),{stroke:"#c4c4c4"}),
    Plot.dot(downNodes,{x:"x",y:"y",r:"r",symbol:"square",fill:"#ed1c24",stroke:"#444",strokeWidth:1}),
    Plot.dot(upNodes.filter(d=>d.i<14),{x:"x",y:"y",r:11.5,fill:"#6ab42d",stroke:"#222",strokeWidth:1}),
    Plot.dot(upNodes.filter(d=>d.i===14),{x:"x",y:"y",r:11.5,fill:"#6ab42d"}),
    Plot.text(downNodes,{x:"lx",y:"ly",text:"l",fontSize:10.9,fill:"#111"}),
    Plot.text(upNodes,{x:"lx",y:"ly",text:"l",fontSize:10.9,fill:"#111"}),
    Plot.dot([1362],{x:d=>d,y:124,r:5.8,symbol:"square",fill:"#ed1c24"}),
    Plot.dot([1364],{x:d=>d,y:170,r:6.5,fill:"#6ab42d"}),
    Plot.text(["Down"],{x:1382,y:124,textAnchor:"start",fontSize:11,fill:"#ed1c24"}),
    Plot.text(["Up"],{x:1382,y:168,textAnchor:"start",fontSize:11,fill:"#4a9a22"})
  ]}),790,720);

// ---------- E, F bars
function barPanel(names,scores,fill,xMax,ticks,w,h,mL,mR,bottom,labelDy,labelSize){
  const rows=names.map((n,i)=>({n,v:scores[i]}));
  return Plot.plot({width:w,height:h,marginLeft:mL,marginRight:mR,marginTop:0,marginBottom:bottom,
    style:{fontFamily:narrow},
    x:{domain:[0,xMax],axis:null},
    y:{domain:names,axis:null,padding:.09,round:false},
    marks:[
      Plot.barX(rows,{y:"n",x:"v",fill}),
      Plot.frame({anchor:"bottom",stroke:"#9dbcdc"}),
      Plot.axisY({tickSize:0,tickPadding:11,fontSize:labelSize,fill:"#595959",label:null,dy:-1}),
      Plot.axisX(ticks,{tickSize:3,tickPadding:4,fontSize:10,fill:"#595959",stroke:"#9dbcdc",label:null}),
      Plot.text(["EnrichmentScore(-log10(Pvalue))"],{frameAnchor:"bottom",dy:labelDy,fontSize:10,fill:"#595959"})
    ]});
}
put(barPanel(upPathways,upScores,"#00b050",6,[0,1,2,3,4,5,6],410,327,179,10.4,37,32,10.6),770,1341.3);
put(barPanel(downPathways,downScores,"#ff0000",25,[0,5,10,15,20,25],224,313,10,9.9,31.3,31.5,11),1432.5,1341);
txt("Up-regulated  Genes",983,1318,{size:15.2,weight:700,color:"#404040",center:true,font:narrow});
txt("Down-regulated  Genes",1476,1318,{size:15.2,weight:700,color:"#404040",center:true,font:narrow});
</script></body></html>
